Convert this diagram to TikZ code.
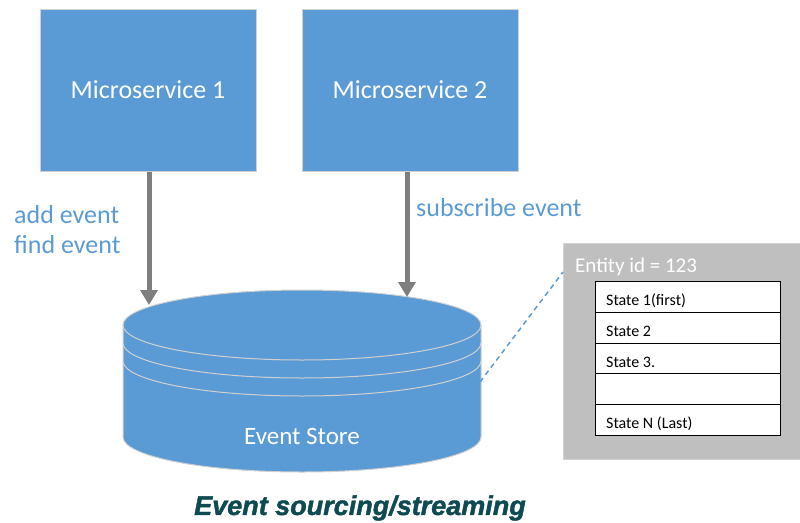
\documentclass[tikz,border=0pt]{standalone}
\usepackage{fontspec}
\setmainfont{Carlito}
\newfontfamily\titlefont[FakeBold=1.6]{Liberation Sans}
\usetikzlibrary{arrows.meta}
\definecolor{msblue}{HTML}{5B9BD5}
\definecolor{arrowgray}{HTML}{7F7F7F}
\definecolor{panelgray}{HTML}{BFBFBF}
\definecolor{rimgray}{HTML}{D0D0D0}
\definecolor{titleteal}{HTML}{0E4A52}
\tikzset{
  service/.style={fill=msblue, draw=rimgray, line width=1pt, minimum width=216pt, minimum height=162pt,
    inner sep=0pt, text=white, font=\fontsize{26}{30}\selectfont},
  flow/.style={draw=arrowgray, line width=5pt, -{Triangle[width=17pt,length=15pt]}},
  oplabel/.style={text=msblue, font=\fontsize{26}{30}\selectfont, align=left, inner sep=0pt},
  staterow/.style={draw=black, fill=white, minimum width=185pt, minimum height=31pt, inner sep=0pt,
    anchor=north west},
  statetext/.style={anchor=base west, font=\fontsize{16}{19}\selectfont, inner sep=0pt},
  rim/.style={draw=rimgray, line width=1pt}
}
\begin{document}
\begin{tikzpicture}[x=1pt,y=-1pt]
\useasboundingbox (0,0) rectangle (800,522);

% services
\node[service] (ms1) at (148,90) {Microservice 1};
\node[service] (ms2) at (410,90) {Microservice 2};

% event store cylinder (y axis points down, so lower halves run 180 -> 0)
\fill[msblue] (123,325) -- (123,437) arc[start angle=180, end angle=0, x radius=179, y radius=35]
  -- (481,325) arc[start angle=0, end angle=-180, x radius=179, y radius=35] -- cycle;
\draw[rim] (123,325) -- (123,437) arc[start angle=180, end angle=0, x radius=179, y radius=35] -- (481,325);
\draw[rim] (302,325) ellipse[x radius=179, y radius=35];
\draw[rim] (123,343) arc[start angle=180, end angle=0, x radius=179, y radius=35];
\draw[rim] (123,361) arc[start angle=180, end angle=0, x radius=179, y radius=35];
\node[text=white, font=\fontsize{25}{30}\selectfont] (store) at (302,436) {Event Store};
\coordinate (in1) at (149,305);
\coordinate (in2) at (407,297);
\coordinate (side) at (480,382);

% connectors
\draw[flow] (ms1.south -| in1) -- (in1);
\draw[flow] (ms2.south -| in2) -- (in2);
\node[oplabel, anchor=west] (ops1) at (14,230) {add event\\find event};
\node[oplabel, anchor=west] (ops2) at (416,208) {subscribe event};

% entity panel
\node[fill=panelgray, draw=panelgray!70!white, minimum width=237pt, minimum height=216pt,
  anchor=north west, inner sep=0pt] (panel) at (563,243) {};
\coordinate (link) at (563,272);
\node[anchor=west, text=white, font=\fontsize{21}{25}\selectfont, inner sep=0pt] (eid) at (575,267) {Entity id = 123};
\node[staterow] (s1) at (595,281) {};
\node[staterow] (s2) at (595,312) {};
\node[staterow] (s3) at (595,343) {};
\node[staterow] (s4) at (595,373) {};
\node[staterow] (s5) at (595,404) {};
\foreach \n/\t in {s1/State 1(first), s2/State 2, s3/State 3., s5/State N (Last)}
  \node[statetext] at ([xshift=11pt,yshift=-9pt]\n.west) {\t};
\draw[msblue, line width=1.5pt, dash pattern=on 5pt off 4pt] (side) -- (link);

% caption
\node[text=titleteal, font=\titlefont\bfseries\itshape\fontsize{27}{32}\selectfont] (title) at (360,508) {Event sourcing/streaming};
\end{tikzpicture}
\end{document}
